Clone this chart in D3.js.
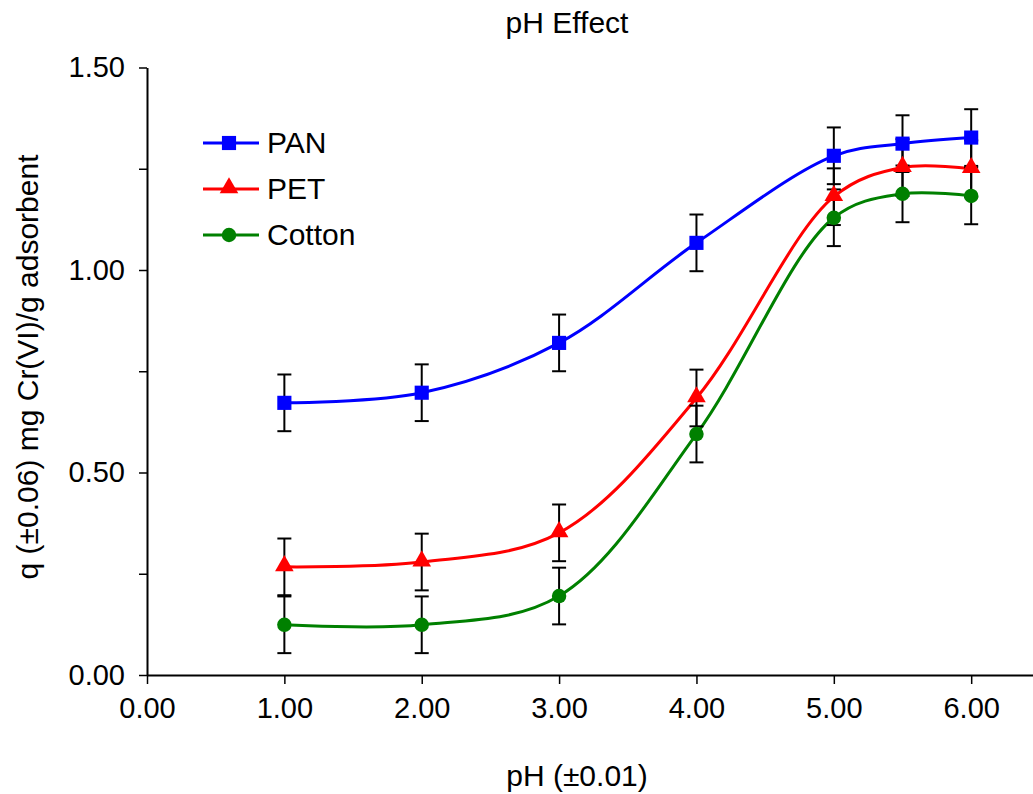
<!DOCTYPE html>
<html>
<head>
    <meta charset="UTF-8">
    <title>pH Effect</title>
    <style type="text/css">
        html, body {
            margin: 0;
            padding: 0;
            background: #ffffff;
        }

        #chart text {
            font-family: Arial, "Liberation Sans", Helvetica, sans-serif;
            fill: #000000;
        }
    </style>
</head>
<body>
    <div id="chart"></div>
    <script src="https://cdn.jsdelivr.net/npm/d3@7/dist/d3.min.js"></script>
    <script>
        // values
        var phValues = [1, 2, 3, 4, 5, 5.5, 6];
        var panValues = [0.672, 0.697, 0.820, 1.067, 1.282, 1.312, 1.327];
        var petValues = [0.267, 0.279, 0.351, 0.684, 1.181, 1.253, 1.250];
        var cottonValues = [0.124, 0.124, 0.195, 0.595, 1.129, 1.188, 1.183];
        var panErrors = [0.07, 0.07, 0.07, 0.07, 0.07, 0.07, 0.07];
        var petErrors = [0.07, 0.07, 0.07, 0.07, 0.07, 0.07, 0.07];
        var cottonErrors = [0.07, 0.07, 0.07, 0.07, 0.07, 0.07, 0.07];
        var seriesNames = ["PAN", "PET", "Cotton"];
        var xTicks = [0, 1, 2, 3, 4, 5, 6];
        var yTicks = [0, 0.25, 0.5, 0.75, 1, 1.25, 1.5];
        var yLabelled = [0, 0.5, 1, 1.5];

        var width = 1033, height = 794;

        var series = [
            { name: seriesNames[0], values: panValues, errors: panErrors, color: "#0000ff", symbol: d3.symbolSquare, size: 200 },
            { name: seriesNames[1], values: petValues, errors: petErrors, color: "#ff0000", symbol: d3.symbolTriangle, size: 150 },
            { name: seriesNames[2], values: cottonValues, errors: cottonErrors, color: "#008000", symbol: d3.symbolCircle, size: 165 }
        ];

        var svg = d3.select("#chart").append("svg")
            .attr("width", width)
            .attr("height", height);

        var x = d3.scaleLinear().domain([0, 6.45]).range([147, 1033]);
        var y = d3.scaleLinear().domain([0, 1.5]).range([675, 67.5]);

        // axes
        var xAxis = svg.append("g")
            .attr("transform", "translate(0," + y(0) + ")")
            .call(d3.axisBottom(x).tickValues(xTicks).tickSize(9).tickSizeOuter(0).tickPadding(13)
                .tickFormat(d3.format(".2f")));

        var yAxis = svg.append("g")
            .attr("transform", "translate(" + x(0) + ",0)")
            .call(d3.axisLeft(y).tickValues(yTicks).tickSize(8).tickSizeOuter(0).tickPadding(14)
                .tickFormat(function (d) { return yLabelled.indexOf(d) >= 0 ? d3.format(".2f")(d) : ""; }));

        [xAxis, yAxis].forEach(function (g) {
            g.select(".domain").attr("stroke", "#000").attr("stroke-width", 2);
            g.selectAll(".tick line").attr("stroke", "#000").attr("stroke-width", 1.5);
            g.selectAll(".tick text").attr("font-size", 29).attr("fill", "#000");
        });
        xAxis.selectAll(".tick text").attr("dy", "0.71em");

        // titles
        svg.append("text")
            .attr("x", 567).attr("y", 33)
            .attr("text-anchor", "middle")
            .attr("font-size", 30)
            .text("pH Effect");

        svg.append("text")
            .attr("x", 577).attr("y", 786)
            .attr("text-anchor", "middle")
            .attr("font-size", 30)
            .text("pH (±0.01)");

        svg.append("text")
            .attr("transform", "translate(38,367) rotate(-90)")
            .attr("text-anchor", "middle")
            .attr("font-size", 30)
            .text("q (±0.06) mg Cr(VI)/g adsorbent");

        var line = d3.line()
            .x(function (d, i) { return x(phValues[i]); })
            .y(function (d) { return y(d); })
            .curve(d3.curveCatmullRom.alpha(0.5));

        // lines
        svg.selectAll("path.series")
            .data(series)
            .enter().append("path")
            .attr("class", "series")
            .attr("fill", "none")
            .attr("stroke", function (d) { return d.color; })
            .attr("stroke-width", 3)
            .attr("d", function (d) { return line(d.values); });

        // error bars
        series.forEach(function (s) {
            var eb = svg.append("g").attr("class", "errors");
            s.values.forEach(function (v, i) {
                var cx = x(phValues[i]);
                var top = y(v + s.errors[i]), bot = y(v - s.errors[i]);
                eb.append("line").attr("x1", cx).attr("x2", cx).attr("y1", top).attr("y2", bot);
                eb.append("line").attr("x1", cx - 7).attr("x2", cx + 7).attr("y1", top).attr("y2", top);
                eb.append("line").attr("x1", cx - 7).attr("x2", cx + 7).attr("y1", bot).attr("y2", bot);
            });
            eb.selectAll("line").attr("stroke", "#000").attr("stroke-width", 2);
        });

        // markers
        series.forEach(function (s) {
            svg.append("g").selectAll("path")
                .data(s.values)
                .enter().append("path")
                .attr("transform", function (d, i) {
                    var dy = s.symbol === d3.symbolTriangle ? -1 : 0;
                    return "translate(" + x(phValues[i]) + "," + (y(d) + dy) + ")";
                })
                .attr("d", d3.symbol().type(s.symbol).size(s.size))
                .attr("fill", s.color);
        });

        // legend
        var legend = svg.append("g").selectAll("g")
            .data(series)
            .enter().append("g")
            .attr("transform", function (d, i) { return "translate(203," + (143 + i * 46) + ")"; });

        legend.append("line")
            .attr("x1", 0).attr("x2", 56)
            .attr("stroke", function (d) { return d.color; })
            .attr("stroke-width", 3);

        legend.append("path")
            .attr("transform", function (d) { return "translate(26," + (d.symbol === d3.symbolTriangle ? -1 : 0) + ")"; })
            .attr("d", function (d) { return d3.symbol().type(d.symbol).size(d.size)(); })
            .attr("fill", function (d) { return d.color; });

        legend.append("text")
            .attr("x", 64).attr("y", 10)
            .attr("font-size", 30)
            .text(function (d) { return d.name; });
    </script>
</body>
</html>
